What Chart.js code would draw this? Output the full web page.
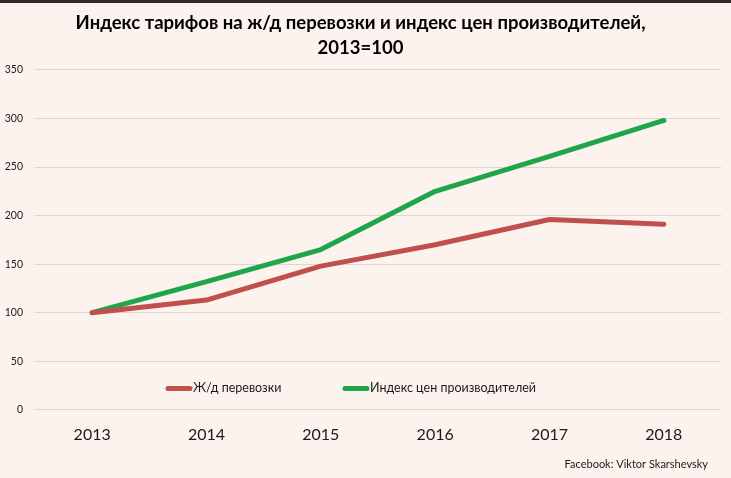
<!DOCTYPE html>
<html>
<head>
<meta charset="utf-8">
<script src="https://cdn.jsdelivr.net/npm/chart.js@4"></script>
<style>
  html, body { margin: 0; padding: 0; background: #fdf3ee; }
  #wrap { width: 731px; height: 478px; position: relative; }
</style>
</head>
<body>
<div id="wrap"><canvas id="myChart"></canvas></div>
<script>
// data
const years = ['2013', '2014', '2015', '2016', '2017', '2018'];
const railTariffs = [100, 113, 148, 170, 196, 191];
const producerPrices = [100, 132, 165, 225, 261, 298];
const seriesNames = ['Ж/д перевозки', 'Индекс цен производителей'];
const titleLines = ['Индекс тарифов на ж/д перевозки и индекс цен производителей,', '2013=100'];
const footerText = 'Facebook: Viktor Skarshevsky';

const bgColor = '#fdf3ee';
const fontFamily = 'Lato, "Open Sans", sans-serif';

// background + dark strip at the very top
const backdrop = {
  id: 'backdrop',
  beforeDraw(chart) {
    const c = chart.ctx;
    c.save();
    c.fillStyle = bgColor;
    c.fillRect(0, 0, chart.width, chart.height);
    c.fillStyle = '#2b2b2b';
    c.fillRect(0, 0, chart.width, 3);
    c.restore();
  }
};

// legend drawn inside the plot near the bottom, plus the footer credit
const innerLegend = {
  id: 'innerLegend',
  afterDraw(chart) {
    const c = chart.ctx;
    const y = chart.scales.y.getPixelForValue(22);
    const starts = [168, 345];
    c.save();
    c.font = '12.5px ' + fontFamily;
    c.textBaseline = 'middle';
    chart.data.datasets.forEach(function(ds, i) {
      const x = starts[i];
      c.strokeStyle = ds.borderColor;
      c.lineWidth = 5;
      c.lineCap = 'round';
      c.beginPath();
      c.moveTo(x, y);
      c.lineTo(x + 22, y);
      c.stroke();
      c.fillStyle = '#1a1a1a';
      c.fillText(ds.label, x + 25, y);
    });
    c.font = '11px ' + fontFamily;
    c.textAlign = 'right';
    c.fillText(footerText, 708, 464);
    c.restore();
  }
};

var ctx = document.getElementById('myChart').getContext('2d');
var myChart = new Chart(ctx, {
  type: 'line',
  data: {
    labels: years,
    datasets: [
      {
        label: seriesNames[0],
        data: railTariffs,
        borderColor: '#c0504d',
        backgroundColor: '#c0504d',
        borderWidth: 5,
        pointRadius: 0,
        tension: 0,
        borderCapStyle: 'round',
        borderJoinStyle: 'round'
      },
      {
        label: seriesNames[1],
        data: producerPrices,
        borderColor: '#1fa64c',
        backgroundColor: '#1fa64c',
        borderWidth: 5,
        pointRadius: 0,
        tension: 0,
        borderCapStyle: 'round',
        borderJoinStyle: 'round'
      }
    ]
  },
  options: {
    responsive: true,
    maintainAspectRatio: false,
    animation: false,
    layout: { padding: { left: 0, right: 10, top: 5, bottom: 27 } },
    plugins: {
      legend: { display: false },
      tooltip: { enabled: false },
      title: {
        display: true,
        text: titleLines,
        color: '#000',
        font: { family: fontFamily, size: 18.5, weight: 'bold', lineHeight: 1.35 },
        padding: { top: 6, bottom: 9 }
      }
    },
    scales: {
      x: {
        offset: true,
        grid: { display: false },
        border: { display: false },
        ticks: { color: '#1a1a1a', font: { family: fontFamily, size: 16 }, padding: 7 }
      },
      y: {
        min: 0,
        max: 350,
        afterFit(axis) { axis.width = 35; },
        grid: { color: '#dcd6d3', drawTicks: false, lineWidth: 1 },
        border: { display: false },
        ticks: { stepSize: 50, color: '#1a1a1a', font: { family: fontFamily, size: 10.5 }, padding: 12 }
      }
    }
  },
  plugins: [backdrop, innerLegend]
});
</script>
</body>
</html>
